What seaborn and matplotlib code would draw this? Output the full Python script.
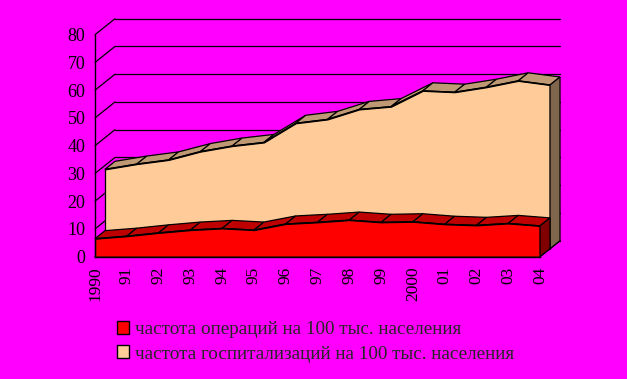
import numpy as np
import matplotlib
matplotlib.use("Agg")
import matplotlib.pyplot as plt
from matplotlib.patches import Polygon, Patch
import seaborn as sns

years = np.arange(1990, 2005)
tick_labels = ["1990", "91", "92", "93", "94", "95", "96", "97", "98", "99",
               "2000", "01", "02", "03", "04"]
operations = np.array([6.5, 7.4, 8.6, 9.6, 10.2, 9.6, 11.8, 12.4, 13.2, 12.4,
                       12.6, 11.7, 11.3, 12.0, 11.1])
hospital = np.array([28.6, 30.5, 32.0, 35.0, 37.0, 38.3, 45.2, 46.6, 50.2, 51.2,
                     56.9, 56.4, 58.2, 60.5, 59.0])
label_ops = "частота операций на 100 тыс. населения"
label_hosp = "частота госпитализаций на 100 тыс. населения"

sns.set_style("white")
plt.rcParams['font.family'] = ['Liberation Serif', 'DejaVu Serif']

BG = "#FF00FF"
W, H = 627, 379
fig = plt.figure(figsize=(W / 100, H / 100), dpi=100, facecolor=BG)
x0, x1, y0, y1 = 95, 540, 256.7, 34.7
ax = fig.add_axes([x0 / W, (H - y0) / H, (x1 - x0) / W, (y0 - y1) / H])
ax.set_facecolor("none")
ax.set_xlim(years[0], years[-1])
ax.set_ylim(0, 80)

px_x = (x1 - x0) / (years[-1] - years[0])
px_y = (y0 - y1) / 80.0
DX = 20 / px_x
DY = 16 / px_y
LW = 0.9

# back wall and left wall gridlines
for v in range(0, 81, 10):
    ax.plot([years[0] + DX, years[-1] + DX], [v + DY, v + DY], color="black", lw=LW, clip_on=False, zorder=1)
    ax.plot([years[0], years[0] + DX], [v, v + DY], color="black", lw=LW, clip_on=False, zorder=1)
# floor right edge
ax.plot([years[-1], years[-1] + DX], [0, DY], color="black", lw=LW, clip_on=False, zorder=1)


def draw_series(vals, d0, d1, front, top, side, z):
    ox0, oy0 = DX * d0, DY * d0
    ox1, oy1 = DX * d1, DY * d1
    for i in range(len(years) - 1):
        poly = Polygon([(years[i] + ox0, vals[i] + oy0), (years[i + 1] + ox0, vals[i + 1] + oy0),
                        (years[i + 1] + ox1, vals[i + 1] + oy1), (years[i] + ox1, vals[i] + oy1)],
                       closed=True, facecolor=top, edgecolor="black", lw=LW, clip_on=False, zorder=z)
        ax.add_patch(poly)
    ax.fill_between(years + ox0, oy0, vals + oy0, facecolor=front, edgecolor="black",
                    lw=LW, clip_on=False, zorder=z + 0.1)
    sns.lineplot(x=years + ox0, y=vals + oy0, ax=ax, color="black", lw=LW, zorder=z + 0.2,
                 clip_on=False, legend=False)
    sp = Polygon([(years[-1] + ox0, oy0), (years[-1] + ox0, vals[-1] + oy0),
                  (years[-1] + ox1, vals[-1] + oy1), (years[-1] + ox1, oy1)],
                 closed=True, facecolor=side, edgecolor="black", lw=LW, clip_on=False, zorder=z + 0.1)
    ax.add_patch(sp)


draw_series(hospital, 0.5, 1.0, "#FFCC99", "#BF9973", "#80664D", 2)
draw_series(operations, 0.0, 0.5, "#FF0000", "#BF0000", "#800000", 4)

for s in ["top", "right"]:
    ax.spines[s].set_visible(False)
for s in ["left", "bottom"]:
    ax.spines[s].set_color("black")
    ax.spines[s].set_linewidth(1.0)
    ax.spines[s].set_zorder(6)

ax.set_yticks(range(0, 81, 10))
ax.set_yticklabels([str(v) for v in range(0, 81, 10)], fontsize=13)
ax.set_xticks(years)
ax.set_xticklabels(tick_labels, rotation=90, fontsize=12.5)
ax.tick_params(axis="both", direction="out", length=4, width=1, color="black", labelcolor="black")
ax.tick_params(axis="y", pad=3)
ax.tick_params(axis="x", pad=3)
ax.set_xlabel("")
ax.set_ylabel("")

handles = [Patch(facecolor="#FF0000", edgecolor="black", lw=1),
           Patch(facecolor="#FFCC99", edgecolor="black", lw=1)]
fig.legend(handles, [label_ops, label_hosp], loc="upper left",
           bbox_to_anchor=(117 / W, 1 - 321 / H), frameon=False,
           prop={"family": "Liberation Serif", "size": 13.8},
           handlelength=0.65, handleheight=0.65, handletextpad=0.3, labelspacing=0.38,
           borderaxespad=0, borderpad=0)

fig.savefig("out.png", dpi=100, facecolor=BG)
